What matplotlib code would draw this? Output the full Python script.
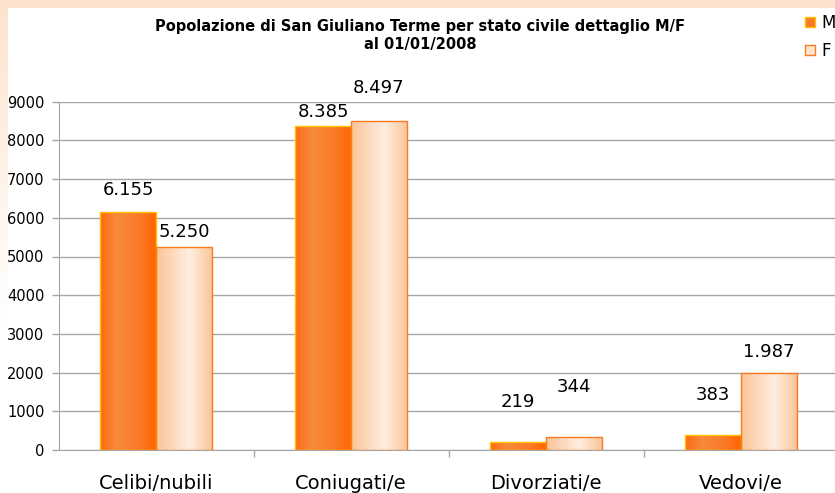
import numpy as np
import matplotlib
matplotlib.use("Agg")
import matplotlib.pyplot as plt
from matplotlib.colors import LinearSegmentedColormap
from matplotlib.patches import Patch

categories = ["Celibi/nubili", "Coniugati/e", "Divorziati/e", "Vedovi/e"]
males = [6155, 8385, 219, 383]
females = [5250, 8497, 344, 1987]
series_names = ["M", "F"]
title = "Popolazione di San Giuliano Terme per stato civile dettaglio M/F\nal 01/01/2008"
yticks = [0, 1000, 2000, 3000, 4000, 5000, 6000, 7000, 8000, 9000]

# label offsets above bar tops in pixels (style)
label_off_m = [21.7, 13.8, 39.8, 40.2]
label_off_f = [15.1, 32.9, 50.0, 21.4]

W, H = 835, 493
fig = plt.figure(figsize=(W / 100, H / 100), dpi=100, facecolor="white")

# background frame: peach top band and left fading strip
bg = fig.add_axes([0, 0, 1, 1], zorder=-10)
bg.set_xlim(0, W)
bg.set_ylim(H, 0)
bg.axis("off")
peach = np.array([253, 227, 205]) / 255
bg.add_patch(plt.Rectangle((0, 0), W, 8, color=peach, lw=0))
grad = np.linspace(0, 1, 200)[:, None]
strip = np.ones((200, 1, 3))
for c in range(3):
    strip[:, 0, c] = peach[c] + (1 - peach[c]) * np.clip(grad[:, 0] * 1.3, 0, 1)
bg.imshow(strip, extent=[0, 8, 420, 0], aspect="auto")

ax = fig.add_axes([58.5 / W, 1 - 450 / H, 780 / W, (450 - 101.7) / H])
ax.set_facecolor("none")

x = np.arange(len(categories))
bw = 0.287
bars_m = ax.bar(x - bw / 2, males, bw, facecolor="#F87A28", edgecolor="#FFC000", lw=1, zorder=3, label=series_names[0])
bars_f = ax.bar(x + bw / 2, females, bw, facecolor="#FDE5CF", edgecolor="#F97A22", lw=1, zorder=3, label=series_names[1])

cm_m = LinearSegmentedColormap.from_list("m", [(0, "#FF6A12"), (0.3, "#F78A3C"), (0.7, "#FA7A28"), (1, "#FF6600")])
cm_f = LinearSegmentedColormap.from_list("f", [(0, "#FBC497"), (0.6, "#FEEEE1"), (1, "#FBC699")])
g = np.linspace(0, 1, 256)[None, :]
for bars, cm in ((bars_m, cm_m), (bars_f, cm_f)):
    for b in bars:
        x0, w, h = b.get_x(), b.get_width(), b.get_height()
        im = ax.imshow(g, cmap=cm, extent=[x0, x0 + w, 0, h], aspect="auto", zorder=3.5, interpolation="bilinear")
        im.set_clip_path(b)
        b.set_facecolor("none")
        b.set_zorder(4)

ax.set_xlim(-0.5, 3.5)
ax.set_ylim(0, 9000)
ax.set_yticks(yticks)
ax.set_yticklabels([str(v) for v in yticks], fontsize=10.5)
ax.grid(axis="y", color="#A6A6A6", lw=1, zorder=0)
ax.set_axisbelow(True)
for s in ("top", "right"):
    ax.spines[s].set_visible(False)
for s in ("left", "bottom"):
    ax.spines[s].set_color("#A6A6A6")
ax.tick_params(axis="y", length=5, width=1, color="#A6A6A6", pad=5)
ax.set_xticks(x)
ax.set_xticklabels(categories, fontsize=14)
ax.tick_params(axis="x", which="major", length=0, pad=17)
ax.set_xticks([0.5, 1.5, 2.5], minor=True)
ax.tick_params(axis="x", which="minor", length=5, width=1, color="#A6A6A6")


def fmt(v):
    return f"{v:,}".replace(",", ".")

for bars, vals, offs in ((bars_m, males, label_off_m), (bars_f, females, label_off_f)):
    for b, v, o in zip(bars, vals, offs):
        ax.annotate(fmt(v), (b.get_x() + b.get_width() / 2, v), xytext=(0, o * 0.72),
                    textcoords="offset points", ha="center", va="center", fontsize=13, zorder=6)

fig.text(420 / W, 1 - 35.5 / H, title, ha="center", va="center", fontsize=10.5, fontweight="bold",
         linespacing=1.3)

leg = fig.legend(handles=[Patch(facecolor="#F87A28", edgecolor="#FFC000", label="M"),
                          Patch(facecolor="#FDE5CF", edgecolor="#F97A22", label="F")],
                 loc="upper left", bbox_to_anchor=(805 / W, 1 - 14 / H), frameon=False,
                 handlelength=0.6, handleheight=0.6, handletextpad=0.4, labelspacing=0.6, fontsize=12,
                 borderpad=0, borderaxespad=0)

fig.savefig("out.png", dpi=100, facecolor="white")
